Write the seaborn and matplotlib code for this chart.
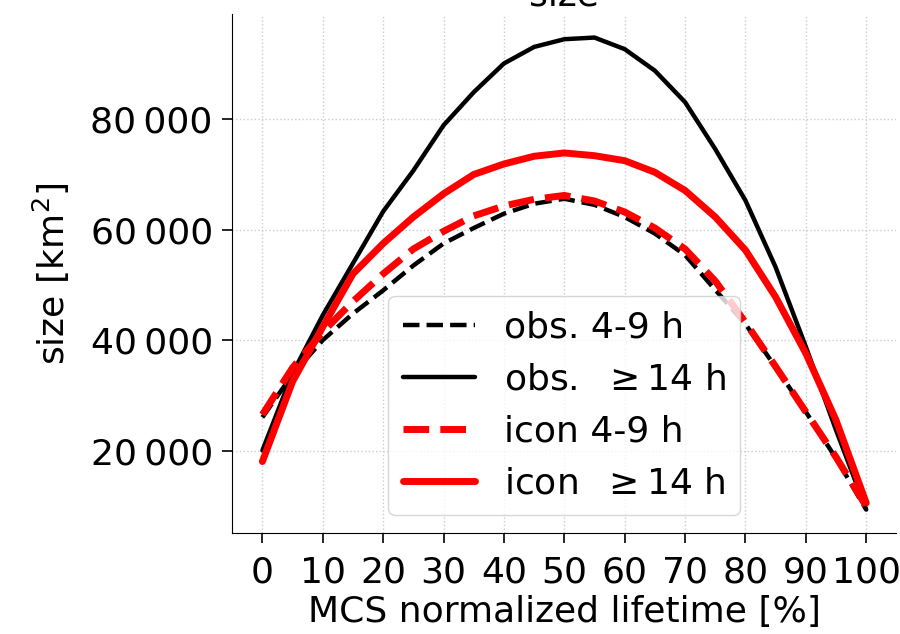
import numpy as np
import pandas as pd
import seaborn as sns
import matplotlib.pyplot as plt
from matplotlib.ticker import FuncFormatter

# normalized lifetime [%]
lifetime = list(range(0, 101, 5))

# mean MCS size [km2]
obs_short = [26000, 33800, 40000, 44800, 49000, 53500, 57500, 60300, 62900, 64700, 65600,
             64500, 62300, 59300, 55400, 49100, 42900, 35100, 27000, 18600, 9300]
obs_long = [20000, 34000, 44500, 53900, 63300, 70700, 78900, 84900, 90100, 93100, 94500,
            94800, 92700, 88800, 83100, 74600, 65300, 53200, 38800, 23700, 9300]
icon_short = [26500, 35000, 41500, 47000, 52000, 56500, 59700, 62500, 64300, 65500, 66200,
              65200, 63200, 60300, 56500, 50700, 43200, 35200, 27000, 18800, 9900]
icon_long = [18000, 32500, 42400, 52000, 57500, 62300, 66500, 70000, 71900, 73300, 73900,
             73400, 72500, 70400, 67100, 62300, 56300, 47800, 37600, 25500, 10500]

labels = ["obs. 4-9 h", r"obs.  $\geq$14 h", "icon 4-9 h", r"icon  $\geq$14 h"]

df = pd.DataFrame({
    "lifetime": lifetime * 4,
    "size": obs_short + obs_long + icon_short + icon_long,
    "run": np.repeat(labels, len(lifetime)),
})

sns.set_style("ticks", rc={"text.color": "black", "axes.labelcolor": "black",
                           "xtick.color": "black", "ytick.color": "black",
                           "axes.edgecolor": "black"})
plt.rcParams["font.family"] = ["DejaVu Sans"]
plt.rcParams["font.size"] = 26

fig = plt.figure(figsize=(9, 6.34), dpi=100)
ax = fig.add_axes([0.258, 0.159, 0.738, 0.819])

styles = {
    labels[0]: dict(color="black", ls="--", lw=3.2),
    labels[1]: dict(color="black", ls="-", lw=3.2),
    labels[2]: dict(color="red", ls="--", lw=5),
    labels[3]: dict(color="red", ls="-", lw=5),
}
for lab in labels:
    sns.lineplot(data=df[df["run"] == lab], x="lifetime", y="size", label=lab,
                 ax=ax, **styles[lab])

ax.set_xticks(range(0, 101, 10))
ax.yaxis.set_major_formatter(FuncFormatter(lambda v, _: f"{v:,.0f}".replace(",", "\u2009")))
ax.set_yticks([20000, 40000, 60000, 80000])
ax.tick_params(labelsize=26, length=7, width=1.2, pad=7)
ax.tick_params(axis="x", pad=9)
ax.grid(ls=":", color="#cccccc", lw=1)
ax.set_xlabel("MCS normalized lifetime [%]", fontsize=26, labelpad=4)
ax.set_ylabel("size [km$^2$]", fontsize=26, labelpad=13)
ax.set_title("size", fontsize=26)
ax.legend(loc="lower center", fontsize=26)
sns.despine(ax=ax)

fig.savefig("out.png", dpi=100)
